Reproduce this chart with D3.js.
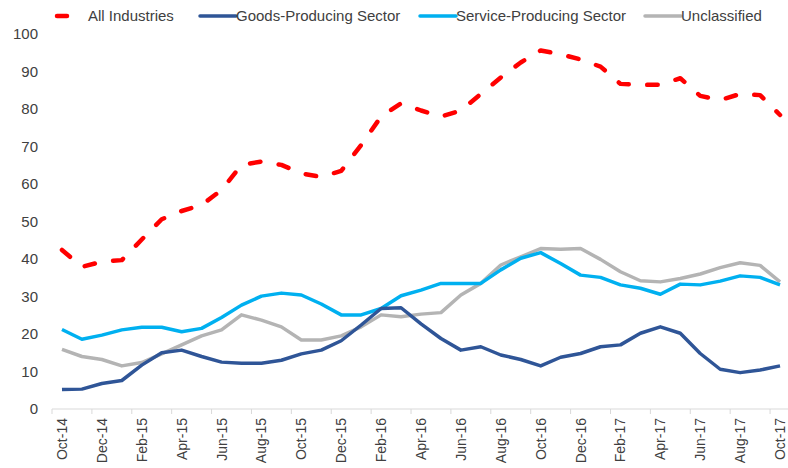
<!DOCTYPE html>
<html>
<head>
<script src='https://d3js.org/d3.v7.min.js'></script>
<style>
body {margin:0; background:#fff;}
svg text {font-family:'Liberation Sans Narrow','Liberation Sans',Arial,sans-serif; fill:#404040;}
</style>
</head>
<body>
<svg width=788 height=468></svg>
<script>
var months = ['Oct-14','Nov-14','Dec-14','Jan-15','Feb-15','Mar-15','Apr-15','May-15','Jun-15','Jul-15','Aug-15','Sep-15',
  'Oct-15','Nov-15','Dec-15','Jan-16','Feb-16','Mar-16','Apr-16','May-16','Jun-16','Jul-16','Aug-16','Sep-16',
  'Oct-16','Nov-16','Dec-16','Jan-17','Feb-17','Mar-17','Apr-17','May-17','Jun-17','Jul-17','Aug-17','Sep-17','Oct-17']
var allInd = [42.4,37.9,39.3,39.7,45.2,50.6,52.8,54.4,58.4,65.1,66,65.1,62.8,61.9,63.5,70.4,78,81.5,79.6,78,79.6,84,88.4,92.4,
  95.6,94.6,93.2,91.3,86.7,86.4,86.5,88.2,83.5,82.4,84,83.7,78.4]
var goods = [5.2,5.3,6.8,7.6,11.7,15,15.7,14,12.5,12.2,12.2,13,14.7,15.7,18.2,22.4,26.8,27,22.7,18.8,15.7,16.6,14.4,13.2,
  11.5,13.8,14.8,16.6,17.1,20.2,21.9,20.2,14.8,10.6,9.7,10.4,11.5]
var service = [21.2,18.6,19.7,21.1,21.8,21.8,20.6,21.5,24.4,27.7,30.1,30.9,30.4,28,25.1,25.1,26.8,30.2,31.7,33.5,33.5,33.5,37.1,40.2,
  41.7,38.8,35.7,35.1,33.1,32.2,30.6,33.3,33.1,34.1,35.5,35.1,33.1]
var unclass = [15.9,14,13.2,11.5,12.4,14.7,17.1,19.5,21.1,25.1,23.7,21.9,18.4,18.4,19.5,21.9,25.1,24.6,25.3,25.7,30.4,33.5,38.4,40.6,
  42.8,42.6,42.8,39.9,36.6,34.2,33.9,34.8,36,37.7,39,38.3,33.9]
var seriesNames = ['All Industries','Goods-Producing Sector','Service-Producing Sector','Unclassified']
var yTicks = [0,10,20,30,40,50,60,70,80,90,100]

var colors = ['#ff0000','#2f5597','#00b0f0','#b4b4b4']
var svg = d3.select('svg')

// scales
var x = d3.scaleBand().domain(months).range([52,790])
var y = d3.scaleLinear().domain([0,100]).range([409,34])
var cx = function(m) {return x(m)+x.bandwidth()/2}

// y labels, no axis line
svg.append('g').selectAll('text')
  .data(yTicks).enter().append('text')
    .attr('x',38)
    .attr('y',function(d) {return y(d)+5})
    .attr('text-anchor','end')
    .style('font-size','15px')
    .text(function(d) {return d})

// x axis line + ticks every 2 months
svg.append('line')
  .attr('x1',52).attr('x2',790)
  .attr('y1',y(0)).attr('y2',y(0))
  .attr('stroke','#d9d9d9').attr('stroke-width',1)
svg.append('g').selectAll('line')
  .data(months.filter(function(d,i) {return i%2==0}))
  .enter().append('line')
    .attr('x1',function(d) {return x(d)}).attr('x2',function(d) {return x(d)})
    .attr('y1',y(0)).attr('y2',y(0)+5)
    .attr('stroke','#d9d9d9')

svg.append('g').selectAll('text')
  .data(months.filter(function(d,i) {return i%2==0}))
  .enter().append('text')
    .attr('transform',function(d) {return 'translate('+(cx(d)+5)+','+(y(0)+9)+') rotate(-90)'})
    .attr('text-anchor','end')
    .style('font-size','14px')
    .text(function(d) {return d})

// lines
var line = d3.line()
  .x(function(d,i) {return cx(months[i])})
  .y(function(d) {return y(d)})

var data = [allInd,goods,service,unclass]
// draw order: grey, light blue, dark blue, red on top
;[3,2,1,0].forEach(function(k) {
  var p = svg.append('path')
    .attr('d',line(data[k]))
    .attr('fill','none')
    .attr('stroke',colors[k])
    .attr('stroke-width',k==0 ? 4.5 : 3.5)
    .attr('stroke-linejoin','round')
  if (k==0) p.attr('stroke-dasharray','10.5,18.5').attr('stroke-linecap','round')
})

// legend
var legX = [55,200,420,645]
var leg = svg.append('g').selectAll('g')
  .data(seriesNames).enter().append('g')
  .attr('transform',function(d,i) {return 'translate('+legX[i]+',16)'})
leg.append('line')
  .attr('x1',function(d,i) {return i==0 ? 2 : 0})
  .attr('x2',function(d,i) {return i==0 ? 12 : 36})
  .attr('y1',0).attr('y2',0)
  .attr('stroke',function(d,i) {return colors[i]})
  .attr('stroke-width',function(d,i) {return i==0 ? 4.5 : 3.5})
  .attr('stroke-linecap','round')
leg.append('text')
  .attr('x',function(d,i) {return i==0 ? 33 : 36})
  .attr('y',5)
  .style('font-size','15px')
  .text(function(d) {return d})
</script>
</body>
</html>
